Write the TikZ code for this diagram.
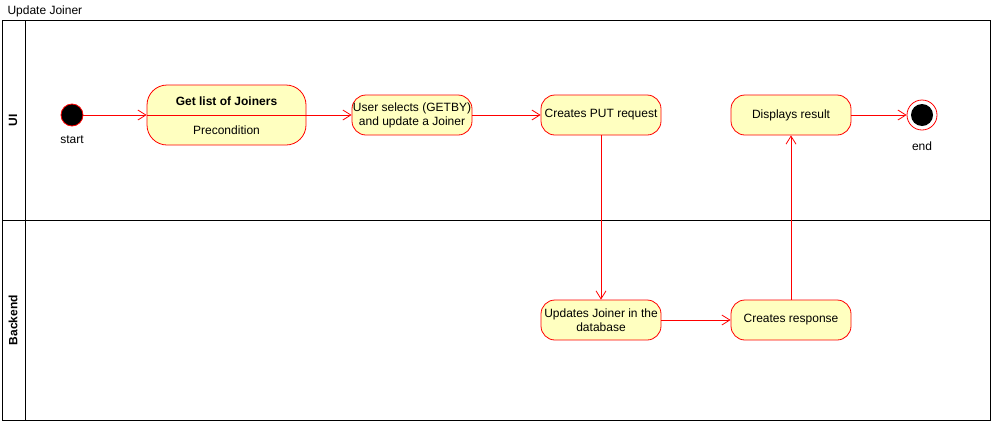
\documentclass[tikz,border=0pt]{standalone}
\usepackage{fontspec}
\setmainfont{Liberation Sans}
\usetikzlibrary{arrows.meta}
\definecolor{actfill}{HTML}{FFFFC0}
\begin{document}
\begin{tikzpicture}[x=1pt, y=-1pt,
        every node/.style={font=\fontsize{12}{14}\selectfont},
        act/.style={draw=red, line width=0.8pt, fill=actfill, rounded corners=14pt, minimum width=120pt, minimum height=40pt, align=center, inner sep=1pt},
        lane/.style={draw=black, line width=0.8pt},
        lanename/.style={rotate=90, font=\fontsize{12}{14}\selectfont\bfseries},
        arrow/.style={draw=red, line width=0.8pt, -{Straight Barb[length=8pt,width=10pt]}}
    ]
        \useasboundingbox (0,0) rectangle (992,421);
        \node[anchor=west] (title) at (4,11) {Update Joiner};
        \draw[lane] (2,20) rectangle (990,420);
        \draw[lane] (25,20) -- (25,420);
        \draw[lane] (2,220) -- (990,220);
        \node[lanename] (ui) at (13,120) {UI};
        \node[lanename] (backend) at (13,320) {Backend};

        \node[circle, draw=red, line width=0.8pt, fill=black, minimum size=22pt, inner sep=0pt] (start) at (72,115) {};
        \node (startlbl) at (72,140) {start};
        \node[act, minimum width=159pt, minimum height=60pt, rounded corners=20pt] (getlist) at (226.5,115) {};
        \node[font=\fontsize{12}{14}\selectfont\bfseries] (getlbl) at (226.5,101) {Get list of Joiners};
        \node (prelbl) at (226.5,130) {Precondition};
        \node[act] (select) at (412,115) {User selects (GETBY)\\and update a Joiner};
        \node[act] (putreq) at (601,115) {Creates PUT request};
        \node[act] (display) at (791,115) {Displays result};
        \node[circle, draw=red, line width=0.8pt, fill=white, minimum size=30pt, inner sep=0pt,
              path picture={\fill[black] (path picture bounding box.center) circle (11pt);}] (end) at (922,115) {};
        \node (endlbl) at (922,146) {end};
        \node[act] (update) at (601,320) {Updates Joiner in the\\database};
        \node[act] (response) at (791,320) {Creates response};

        \draw[draw=red, line width=0.8pt] (getlist.west) -- (getlist.east);
        \draw[arrow] (start) -- (getlist);
        \draw[arrow] (getlist) -- (select);
        \draw[arrow] (select) -- (putreq);
        \draw[arrow] (putreq) -- (update);
        \draw[arrow] (update) -- (response);
        \draw[arrow] (response) -- (display);
        \draw[arrow] (display) -- (end);
    \end{tikzpicture}
\end{document}
